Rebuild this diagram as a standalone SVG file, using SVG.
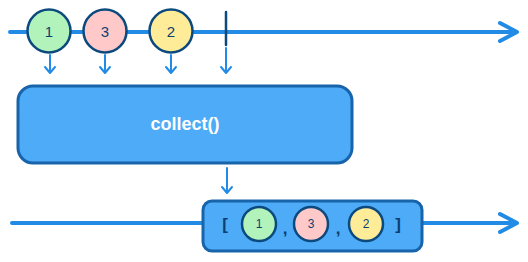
<svg xmlns="http://www.w3.org/2000/svg" width="528" height="262" viewBox="0 0 528 262">
<style>
.ln{stroke:#228be6;stroke-width:4;fill:none;stroke-linecap:round;stroke-linejoin:round}
.ar{stroke:#228be6;stroke-width:2;fill:none;stroke-linecap:round;stroke-linejoin:round}
.c{stroke:#0c4a7e;stroke-width:2.5}
.t{font-family:"Liberation Sans",sans-serif;fill:#0c3f70;text-anchor:middle;dominant-baseline:central}
.box{fill:#4dabf7;stroke:#1864ab;stroke-width:3}
</style>
<g id="connectors">
<path class="ln" d="M10 32 H516 M500 23 L517 32 L500 41"/>
<path class="ln" d="M12 223 H516 M500 214 L517 223 L500 232"/>
<path d="M226 12 V45" stroke="#0c4a7e" stroke-width="2.5" stroke-linecap="round"/>
<path class="ar" d="M50 55 V73 M45 67 L50 73 L55 67"/>
<path class="ar" d="M105 55 V73 M100 67 L105 73 L110 67"/>
<path class="ar" d="M171 55 V73 M166 67 L171 73 L176 67"/>
<path class="ar" d="M226 48 V73 M221 67 L226 73 L231 67"/>
<path class="ar" d="M227 168 V193 M222 187 L227 193 L232 187"/>
</g>
<g id="v1"><circle class="c" cx="49" cy="31" r="21.5" fill="#b2f2bb"/><text class="t" x="49" y="31" font-size="15">1</text></g>
<g id="v3"><circle class="c" cx="105" cy="31" r="21.5" fill="#ffc9c9"/><text class="t" x="105" y="31" font-size="15">3</text></g>
<g id="v2"><circle class="c" cx="171" cy="31" r="21.5" fill="#ffec99"/><text class="t" x="171" y="31" font-size="15">2</text></g>
<g id="collect"><rect class="box" x="18" y="86" width="334" height="77" rx="15"/><text x="185" y="124" font-family="'Liberation Sans',sans-serif" font-size="18" font-weight="bold" fill="#ffffff" text-anchor="middle" dominant-baseline="central">collect()</text></g>
<g id="result">
<rect class="box" x="203" y="201" width="219" height="50" rx="9"/>
<text class="t" x="225" y="224" font-size="17" font-weight="bold">[</text>
<circle class="c" cx="259" cy="224" r="17" fill="#b2f2bb" stroke-width="2"/><text class="t" x="259" y="224" font-size="12">1</text>
<text class="t" x="285" y="228" font-size="17" font-weight="bold">,</text>
<circle class="c" cx="311" cy="224" r="17" fill="#ffc9c9" stroke-width="2"/><text class="t" x="311" y="224" font-size="12">3</text>
<text class="t" x="338" y="228" font-size="17" font-weight="bold">,</text>
<circle class="c" cx="366" cy="224" r="17" fill="#ffec99" stroke-width="2"/><text class="t" x="366" y="224" font-size="12">2</text>
<text class="t" x="398" y="224" font-size="17" font-weight="bold">]</text>
</g>
</svg>
